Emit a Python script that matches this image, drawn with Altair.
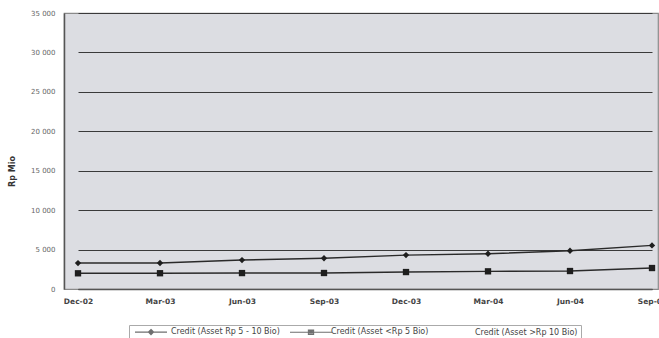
import altair as alt
import pandas as pd

quarters = ["Dec-02", "Mar-03", "Jun-03", "Sep-03", "Dec-03", "Mar-04", "Jun-04", "Sep-04"]
series_names = ["Credit (Asset Rp 5 - 10 Bio)", "Credit (Asset <Rp 5 Bio)", "Credit (Asset >Rp 10 Bio)"]
credit_5_10 = [3290, 3300, 3670, 3900, 4300, 4470, 4850, 5530]
credit_lt5 = [1990, 2000, 2020, 2030, 2150, 2240, 2280, 2660]

rows = []
for q, v in zip(quarters, credit_5_10):
    rows.append({"quarter": q, "series": series_names[0], "value": v})
for q, v in zip(quarters, credit_lt5):
    rows.append({"quarter": q, "series": series_names[1], "value": v})
df = pd.DataFrame(rows)

x_enc = alt.X("quarter:N", sort=quarters,
              scale=alt.Scale(type="point", domain=quarters, range=[14, 588], padding=0),
              axis=alt.Axis(title=None, labelAngle=0, labelFont="DejaVu Sans", labelFontSize=7.5,
                            labelColor="#444", labelPadding=8, ticks=False, domainColor="#555",
                            domainWidth=1.5, grid=False, labelFontWeight="bold", labelOverlap=False))
y_enc = alt.Y("value:Q",
              scale=alt.Scale(domain=[0, 35000], nice=False),
              axis=alt.Axis(title="Rp Mio", values=list(range(0, 35001, 5000)),
                            labelExpr="replace(format(datum.value, ','), ',', ' ')",
                            labelFont="DejaVu Sans", labelFontSize=7, labelColor="#666",
                            labelPadding=9, ticks=False, domainColor="#555", domainWidth=1.5,
                            grid=True, gridColor="#3a3a3a", gridWidth=1, gridOpacity=1,
                            titleFont="DejaVu Sans", titleFontSize=8, titleFontWeight="bold",
                            titleColor="#333", titlePadding=14, titleY=158))

base = alt.Chart(df)

lines = base.mark_line(color="#2a2a2a", strokeWidth=1.4).encode(
    x=x_enc, y=y_enc, detail="series:N")

points = base.mark_point(filled=True, color="#1e1e1e", opacity=1, size=40).encode(
    x=x_enc, y=y_enc,
    shape=alt.Shape("series:N", scale=alt.Scale(domain=series_names, range=["diamond", "square", "circle"]),
                    legend=None))

legend_paths = [
    "M-8,0H8M0,-1.3L1.3,0L0,1.3L-1.3,0ZM0,-0.7L0.7,0L0,0.7L-0.7,0Z",
    "M-10.5,0H10.5M-1.3,-1.1H1.3V1.1H-1.3ZM-0.7,-0.5H0.7V0.5H-0.7Z",
    "M0,0",
]
legend_layer = base.transform_filter("datum.value < 0").mark_point(
    filled=False, color="#333", strokeWidth=1.3).encode(
    x=x_enc, y=y_enc,
    shape=alt.Shape("series:N", scale=alt.Scale(domain=series_names, range=legend_paths),
                    legend=alt.Legend(title=None, orient="none", legendX=65, legendY=312,
                                      direction="horizontal", symbolSize=16, symbolOffset=15,
                                      symbolFillColor="#333", symbolStrokeColor="#333",
                                      symbolStrokeWidth=1.1, labelFont="DejaVu Sans", labelFontSize=8,
                                      labelColor="#444", labelOffset=16, columnPadding=7,
                                      padding=3, strokeColor="#aaa", fillColor="white")))

chart = alt.layer(lines, points, legend_layer).resolve_scale(shape="independent").properties(
    width=594, height=276,
    autosize=alt.AutoSizeParams(type="none"),
    padding={"left": 64, "top": 13, "right": 1, "bottom": 49},
    background="white",
).configure_view(fill="#dcdde2", stroke="#8a8a8a", strokeWidth=1.2)

chart.save("out.html", embed_options={"renderer": "svg", "actions": False})
